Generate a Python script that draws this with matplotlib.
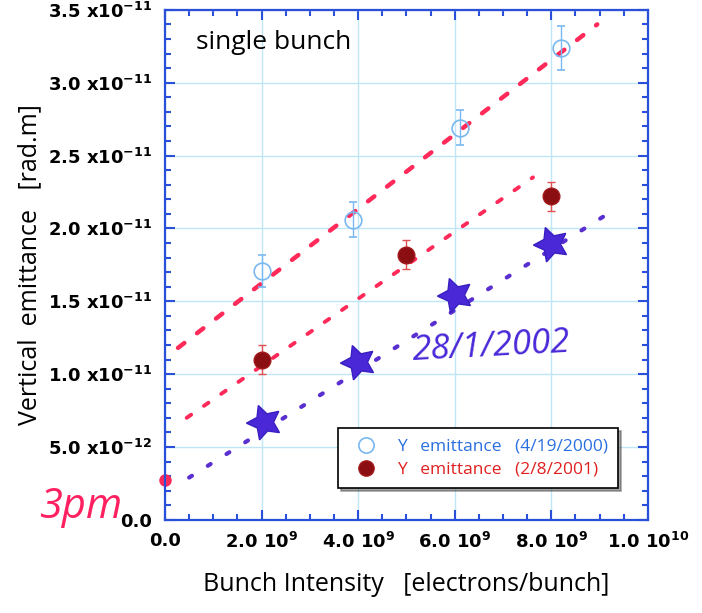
import matplotlib
matplotlib.use('Agg')
import matplotlib.pyplot as plt
from matplotlib.lines import Line2D
from matplotlib.ticker import FixedLocator, MultipleLocator, FixedFormatter

x_2000 = [2.0e9, 3.9e9, 6.1e9, 8.2e9]
y_2000 = [1.71e-11, 2.06e-11, 2.69e-11, 3.24e-11]
err_2000 = [0.11e-11, 0.12e-11, 0.12e-11, 0.15e-11]

x_2001 = [2.0e9, 5.0e9, 8.0e9]
y_2001 = [1.10e-11, 1.82e-11, 2.22e-11]
err_2001 = [0.10e-11, 0.10e-11, 0.10e-11]

# hand-drawn points (28/1/2002)
x_2002 = [2.05e9, 4.0e9, 6.0e9, 8.0e9]
y_2002 = [0.67e-11, 1.08e-11, 1.54e-11, 1.89e-11]
x_3pm = [0.0]
y_3pm = [0.27e-11]

# dotted fit lines (end points)
fit_2000_x = [0.27e9, 8.95e9]
fit_2000_y = [1.18e-11, 3.40e-11]
fit_2001_x = [0.45e9, 7.62e9]
fit_2001_y = [0.70e-11, 2.35e-11]
fit_2002_x = [0.5e9, 9.36e9]
fit_2002_y = [0.29e-11, 2.14e-11]

xticks = [0, 2e9, 4e9, 6e9, 8e9, 1e10]
xlabels = ['0.0', r'2.0 10$^{9}$', r'4.0 10$^{9}$', r'6.0 10$^{9}$', r'8.0 10$^{9}$', r'1.0 10$^{10}$']
yticks = [0, 5e-12, 1e-11, 1.5e-11, 2e-11, 2.5e-11, 3e-11, 3.5e-11]
ylabels = ['0.0', r'5.0 x10$^{-12}$', r'1.0 x10$^{-11}$', r'1.5 x10$^{-11}$', r'2.0 x10$^{-11}$',
           r'2.5 x10$^{-11}$', r'3.0 x10$^{-11}$', r'3.5 x10$^{-11}$']

plt.rcParams['font.family'] = ['Open Sans', 'DejaVu Sans']
plt.rcParams['mathtext.default'] = 'bf'

fig = plt.figure(figsize=(7.02, 6.13), dpi=100)
ax = fig.add_axes([0.235, 0.152, 0.688, 0.832])

spine_col = '#2a4fd8'
for s in ax.spines.values():
    s.set_color(spine_col)
    s.set_linewidth(1.6)

ax.set_xlim(0, 1e10)
ax.set_ylim(0, 3.5e-11)
ax.xaxis.set_major_locator(FixedLocator(xticks))
ax.xaxis.set_major_formatter(FixedFormatter(xlabels))
ax.yaxis.set_major_locator(FixedLocator(yticks))
ax.yaxis.set_major_formatter(FixedFormatter(ylabels))
ax.xaxis.set_minor_locator(MultipleLocator(0.5e9))
ax.yaxis.set_minor_locator(MultipleLocator(1e-12))
ax.tick_params(which='both', direction='in', top=True, right=True, color=spine_col, width=1.5)
ax.tick_params(which='major', length=7, labelsize=13, pad=9)
ax.tick_params(which='minor', length=4)
for t in ax.get_xticklabels() + ax.get_yticklabels():
    t.set_fontweight('bold')
    t.set_family('DejaVu Sans')

ax.grid(True, which='major', color='#bfe6f7', linewidth=1.0)
ax.set_axisbelow(True)

# fit lines
ax.plot(fit_2000_x, fit_2000_y, color='#ff2a5a', lw=3.2, ls=(0, (1.8, 3.6)), dash_capstyle='round')
ax.plot(fit_2001_x, fit_2001_y, color='#ff2a5a', lw=2.8, ls=(0, (1.4, 4.0)), dash_capstyle='round')
ax.plot(fit_2002_x, fit_2002_y, color='#5a2fd0', lw=3.0, ls=(0, (0.8, 4.5)), dash_capstyle='round')
ax.plot(x_3pm, y_3pm, ls='none', marker='o', ms=8, color='#ff2a5a', clip_on=False)

ax.errorbar(x_2000, y_2000, yerr=err_2000, fmt='o', mfc='none', mec='#7ab8f0', ms=12, mew=1.2,
            ecolor='#7ab8f0', elinewidth=1, capsize=3)
ax.errorbar(x_2001, y_2001, yerr=err_2001, fmt='o', mfc='#8b0f12', mec='#a3181b', ms=12,
            ecolor='#e05050', elinewidth=1, capsize=3)
ax.plot(x_2002, y_2002, ls='none', marker=(5, 1, 20), ms=26, color='#4a28d8', mec='#3a1fc0')

handles = [Line2D([], [], ls='none', marker='o', mfc='none', mec='#7ab8f0', ms=11, mew=1.2),
           Line2D([], [], ls='none', marker='o', mfc='#8b0f12', mec='#a3181b', ms=11)]
leg = ax.legend(handles, ['Y   emittance   (4/19/2000)', 'Y   emittance   (2/8/2001)'],
                loc='lower right', bbox_to_anchor=(0.957, 0.045), fontsize=12.5,
                frameon=True, fancybox=False, shadow=True, edgecolor='black',
                handletextpad=0.8, borderpad=0.6, labelspacing=0.4)
leg.get_frame().set_linewidth(1.2)
leg.get_texts()[0].set_color('#2a6fe0')
leg.get_texts()[1].set_color('#e02020')

ax.text(0.065, 0.935, 'single bunch', transform=ax.transAxes, fontsize=19, va='center')
ax.text(5.1e9, 1.19e-11, '28/1/2002', color='#4a28d8', fontsize=25, style='italic',
        rotation=3, ha='left', va='center')
fig.text(0.055, 0.155, '3pm', color='#ff2060', fontsize=30, style='italic')

ax.set_xlabel('Bunch Intensity   [electrons/bunch]', fontsize=18, labelpad=14)
ax.set_ylabel('Vertical  emittance   [rad.m]', fontsize=18, labelpad=4)

fig.savefig('out.png', dpi=100)
